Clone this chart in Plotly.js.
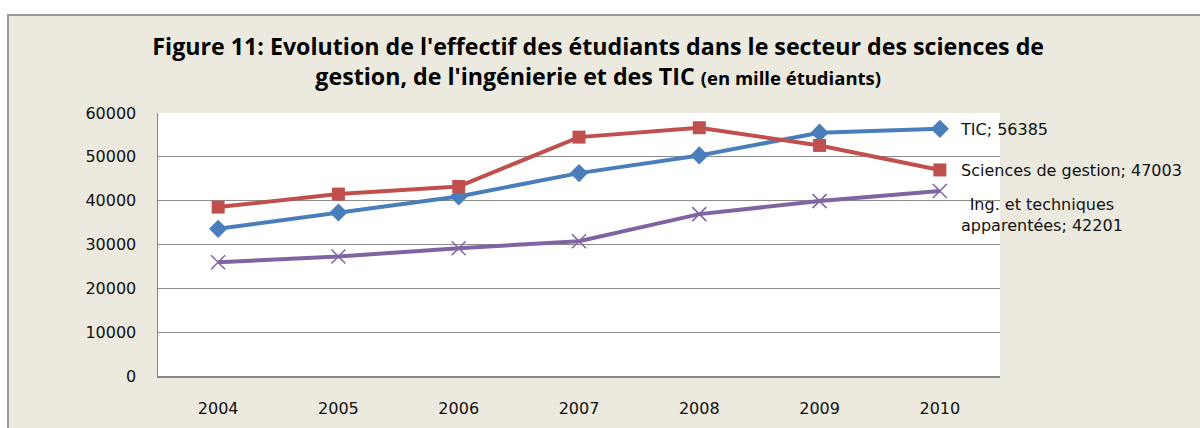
<!DOCTYPE html>
<html>
<head>
<meta charset="utf-8">
<script src="https://cdn.plot.ly/plotly-3.0.1.min.js"></script>
<style>html,body{margin:0;padding:0;background:#fff;}</style>
</head>
<body>
<div id="chart" style="width:1200px;height:428px;"></div>
<script>
const years = ["2004","2005","2006","2007","2008","2009","2010"];
const seriesNames = ["TIC", "Sciences de gestion", "Ing. et techniques<br>apparentées"];
const tic = [33570, 37300, 40950, 46290, 50320, 55500, 56385];
const gestion = [38530, 41500, 43240, 54500, 56640, 52600, 47003];
const ingenierie = [25970, 27250, 29160, 30760, 36930, 39900, 42201];
const yTicks = [0, 10000, 20000, 30000, 40000, 50000, 60000];

const colors = ["#4A7EBB", "#C0504D", "#8064A2"];
const FONT = "Open Sans, sans-serif";
const FONT2 = "DejaVu Sans, sans-serif";

// plot area in pixels
const L = 158, R = 1000, T = 113, B = 376, W = 1200, H = 428;
const px = v => (v - L) / (R - L);
const py = v => (B - v) / (B - T);

const traces = [
  {x: years, y: tic, name: seriesNames[0], mode: "lines+markers",
   line: {color: colors[0], width: 4},
   marker: {symbol: "diamond", size: 14, color: colors[0]}},
  {x: years, y: gestion, name: seriesNames[1], mode: "lines+markers",
   line: {color: colors[1], width: 4},
   marker: {symbol: "square", size: 13, color: colors[1]}},
  {x: years, y: ingenierie, name: seriesNames[2], mode: "lines+markers",
   line: {color: colors[2], width: 4},
   marker: {symbol: "x-thin-open", size: 14, color: colors[2], line: {color: colors[2], width: 1.5}}}
];

const last = years.length - 1;
const annotations = [
  {x: last, y: tic[last], text: seriesNames[0] + "; " + tic[last], xshift: 18, yshift: -1, xanchor: "left", align: "left"},
  {x: last, y: gestion[last], text: seriesNames[1] + "; " + gestion[last], xshift: 19, yshift: -1, xanchor: "left", align: "left"},
  {x: last, y: ingenierie[last], text: seriesNames[2] + "; " + ingenierie[last], xshift: 19, yshift: -24, xanchor: "left", align: "center"}
].map(a => Object.assign({xref: "x", yref: "y", showarrow: false, yanchor: "middle",
  font: {family: FONT2, size: 16, color: "#111"}}, a));

const shapes = [
  // white outside strips
  {type: "rect", xref: "paper", yref: "paper", x0: px(-5), x1: px(W + 5), y0: py(14), y1: py(-5),
   fillcolor: "#ffffff", line: {width: 0}},
  {type: "rect", xref: "paper", yref: "paper", x0: px(-5), x1: px(7), y0: py(H + 5), y1: py(-5),
   fillcolor: "#ffffff", line: {width: 0}},
  // border
  {type: "line", xref: "paper", yref: "paper", x0: px(8), x1: px(W + 5), y0: py(15), y1: py(15),
   line: {color: "#9A9A9A", width: 2}},
  {type: "line", xref: "paper", yref: "paper", x0: px(8), x1: px(8), y0: py(14), y1: py(H + 5),
   line: {color: "#9A9A9A", width: 2}}
];

const layout = {
  width: W, height: H,
  margin: {l: L, r: W - R, t: T, b: H - B, pad: 0},
  paper_bgcolor: "#ECE9DF",
  plot_bgcolor: "#ffffff",
  showlegend: false,
  title: {
    text: "<b>Figure 11: Evolution de l'effectif des étudiants dans le secteur des sciences de<br>gestion, de l'ingénierie et des TIC <span style='font-size:18.5px'>(en mille étudiants)</span></b>",
    font: {family: FONT, size: 23.2, color: "#000"},
    x: 0.4985, xref: "container", xanchor: "center",
    y: 1 - 55 / H, yref: "container", yanchor: "top"
  },
  xaxis: {
    type: "category", categoryorder: "array", categoryarray: years,
    range: [-0.5, years.length - 0.5],
    showgrid: false, showline: true, linecolor: "#868686", linewidth: 1.5,
    ticks: "", tickfont: {family: FONT2, size: 16, color: "#111"},
    ticklabelstandoff: 17, zeroline: false, fixedrange: true
  },
  yaxis: {
    range: [0, 60000], tickvals: yTicks, ticktext: yTicks.map(String),
    showgrid: true, gridcolor: "#8C8C8C", gridwidth: 1.2,
    showline: true, linecolor: "#868686", linewidth: 1.5,
    ticks: "", tickfont: {family: FONT2, size: 16, color: "#111"},
    ticklabelstandoff: 17, zeroline: false, fixedrange: true
  },
  annotations: annotations,
  shapes: shapes
};

Plotly.newPlot("chart", traces, layout, {displayModeBar: false, staticPlot: true});
</script>
</body>
</html>
